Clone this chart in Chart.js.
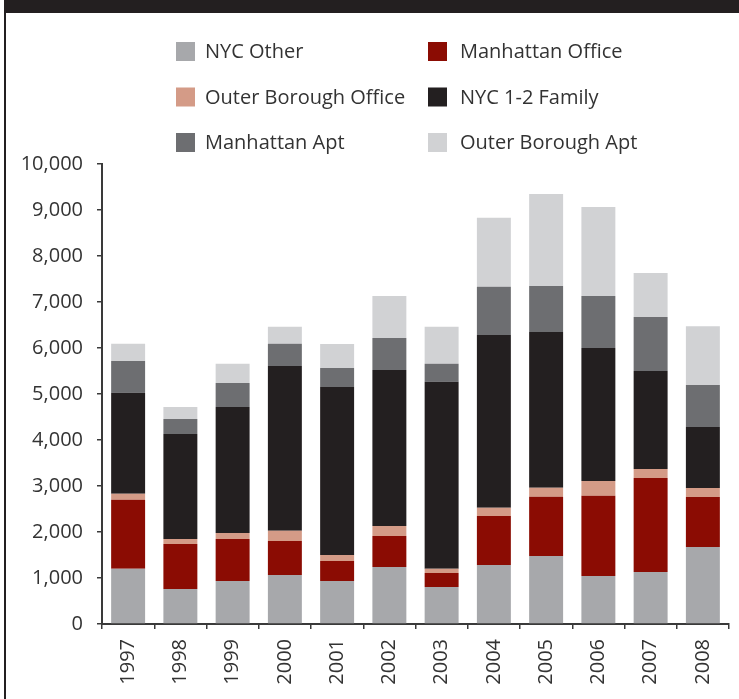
<!DOCTYPE html>
<html lang="en">
<head>
  <meta charset="UTF-8">
  <title>NYC Property Type Stacked Bars</title>
  <script src="https://cdn.jsdelivr.net/npm/chart.js"></script>
  <style>
    html, body { margin: 0; padding: 0; background: #fff; }
    #wrap { position: relative; width: 739px; height: 699px; }
  </style>
</head>
<body>
  <div id="wrap"><canvas id="chart" width="739" height="699"></canvas></div>

  <script>
    // data
    const years = ['1997', '1998', '1999', '2000', '2001', '2002', '2003', '2004', '2005', '2006', '2007', '2008'];
    const seriesNames = ['NYC Other', 'Manhattan Office', 'Outer Borough Office', 'NYC 1-2 Family', 'Manhattan Apt', 'Outer Borough Apt'];
    const nycOther           = [1200, 760, 935, 1065, 935, 1240, 805, 1285, 1480, 1045, 1130, 1675];
    const manhattanOffice    = [1500, 980, 915, 740, 435, 675, 305, 1065, 1285, 1745, 2045, 1085];
    const outerBoroughOffice = [130, 110, 130, 220, 130, 215, 90, 175, 195, 320, 195, 195];
    const family12           = [2195, 2280, 2740, 3585, 3650, 3390, 4065, 3760, 3390, 2890, 2130, 1325];
    const manhattanApt       = [695, 325, 520, 480, 415, 695, 390, 1045, 1000, 1130, 1175, 915];
    const outerBoroughApt    = [370, 260, 415, 370, 520, 915, 805, 1500, 2000, 1935, 955, 1280];
    const colors = ['#a7a8ab', '#8b0c03', '#d49b87', '#231f20', '#6d6e71', '#d1d2d4'];
    const seriesData = [nycOther, manhattanOffice, outerBoroughOffice, family12, manhattanApt, outerBoroughApt];

    const FONT = "'Open Sans', 'Noto Sans', sans-serif";
    const TEXT = '#333333';

    // frame, title bar and 2-column legend
    const decor = {
      id: 'decor',
      afterDraw(chart) {
        const ctx = chart.ctx;
        ctx.save();
        ctx.fillStyle = '#231f20';
        ctx.fillRect(4, 0, 735, 13);
        ctx.fillRect(4, 0, 2, 699);

        ctx.font = '20px ' + FONT;
        ctx.textBaseline = 'middle';
        chart.data.datasets.forEach((ds, i) => {
          const col = i % 2, row = Math.floor(i / 2);
          const sx = [176, 428][col];
          const tx = [205, 460][col];
          const sy = 42 + row * 45.5;
          ctx.fillStyle = ds.backgroundColor;
          ctx.fillRect(sx, sy, 19, 19);
          ctx.fillStyle = TEXT;
          ctx.fillText(ds.label, tx, sy + 10.5);
        });
        ctx.restore();
      }
    };

    new Chart(document.getElementById('chart'), {
      type: 'bar',
      data: {
        labels: years,
        datasets: seriesNames.map((name, i) => ({
          label: name,
          data: seriesData[i],
          backgroundColor: colors[i],
          borderWidth: 0,
          barPercentage: 0.65,
          categoryPercentage: 1
        }))
      },
      options: {
        responsive: false,
        animation: false,
        layout: { padding: { top: 164, right: 10, bottom: 0, left: 0 } },
        plugins: { legend: { display: false }, tooltip: { enabled: false } },
        scales: {
          x: {
            stacked: true,
            afterFit: s => { s.height = 75; },
            grid: { offset: true, drawOnChartArea: false, drawTicks: true, tickLength: 5, color: '#3a3a3a', lineWidth: 1.5 },
            border: { display: true, color: '#3a3a3a', width: 2 },
            ticks: { color: TEXT, font: { family: FONT, size: 20 }, minRotation: 90, maxRotation: 90, padding: 10 }
          },
          y: {
            stacked: true,
            min: 0,
            max: 10000,
            afterFit: s => { s.width = 102; },
            grid: { drawOnChartArea: false, drawTicks: true, tickLength: 5, color: '#3a3a3a', lineWidth: 1.5 },
            border: { display: true, color: '#3a3a3a', width: 2 },
            ticks: {
              stepSize: 1000,
              color: TEXT,
              padding: 14,
              font: { family: FONT, size: 20 },
              callback: v => v.toLocaleString('en-US')
            }
          }
        }
      },
      plugins: [decor]
    });
  </script>
</body>
</html>
